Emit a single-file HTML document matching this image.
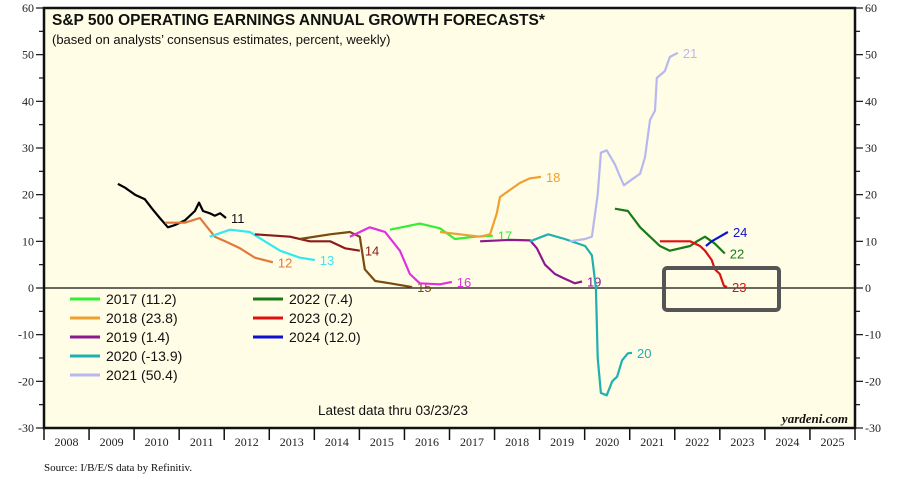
<!DOCTYPE html>
<html><head><meta charset="utf-8"><style>
body{margin:0;background:#fff;width:924px;height:498px;overflow:hidden}
svg{display:block;font-family:"Liberation Sans",sans-serif}
.ax{font-family:"Liberation Serif",serif;font-size:12px;fill:#222}
</style></head><body>
<svg id="c" width="924" height="498">
<rect x="44" y="8" width="811" height="420" fill="#fffde6" stroke="#111" stroke-width="2.5"/>
<g id="grid"></g><g id="series"></g>
<text x="52" y="25" font-weight="bold" font-size="15.5" fill="#111">S&amp;P 500 OPERATING EARNINGS ANNUAL GROWTH FORECASTS*</text>
<text x="52" y="44" font-size="13" fill="#111">(based on analysts’ consensus estimates, percent, weekly)</text>
<rect x="664" y="268" width="115" height="42" rx="3" fill="none" stroke="#555" stroke-width="4"/>
<text x="393" y="415" text-anchor="middle" font-size="13.5" fill="#111">Latest data thru 03/23/23</text>
<text x="848" y="423" text-anchor="end" font-family="Liberation Serif,serif" font-style="italic" font-weight="bold" font-size="13" fill="#111">yardeni.com</text>
<text x="44" y="471" font-family="Liberation Serif,serif" font-size="11" fill="#111">Source: I/B/E/S data by Refinitiv.</text>
<g id="legend"></g>
</svg>
<script>
const yTicks=[-30,-20,-10,0,10,20,30,40,50,60];
const years=[2008,2009,2010,2011,2012,2013,2014,2015,2016,2017,2018,2019,2020,2021,2022,2023,2024,2025];
const seriesNames=["11","12","13","14","15","16","17","18","19","20","21","22","23","24"];
const seriesColors=["#000000","#e07a3a","#33e8f0","#8b1a1a","#7a4a10","#e030e0","#33ee33","#f0a030","#8b1a8b","#20b0b0","#b8b8f0","#1a7a1a","#e01010","#1010d0"];
const s11x=[2009.64,2009.80,2010.02,2010.24,2010.40,2010.57,2010.75,2010.91,2011.13,2011.35,2011.44,2011.53,2011.68,2011.79,2011.91,2012.04];
const s11y=[22.3,21.5,20,19,17,15,13,13.5,14.5,16.5,18.3,16.5,16,15.5,16,15];
const s12x=[2010.69,2011.13,2011.46,2011.79,2012.02,2012.35,2012.68,2013.08];
const s12y=[14,14,15,11,10,8.5,6.5,5.5];
const s13x=[2011.68,2012.13,2012.57,2012.90,2013.24,2013.68,2014.01];
const s13y=[11,12.5,12,10,8,6.5,6];
const s14x=[2012.68,2013.46,2013.90,2014.35,2014.68,2015.01];
const s14y=[11.5,11,10,10,8.5,8];
const s15x=[2013.68,2014.35,2014.79,2015.01,2015.12,2015.35,2015.68,2016.17];
const s15y=[10.5,11.5,12,11,4,1.5,1.0,0.2];
const s16x=[2014.79,2015.23,2015.57,2015.90,2016.12,2016.34,2016.79,2017.05];
const s16y=[11,13,12,8,3,1,0.8,1.3];
const s17x=[2015.68,2016.34,2016.79,2017.12,2017.57,2017.96];
const s17y=[12.5,13.8,12.8,10.5,11,11.2];
const s18x=[2016.79,2017.68,2017.90,2018.05,2018.12,2018.34,2018.56,2018.79,2019.03];
const s18y=[12,11,11.5,16,19.5,21,22.5,23.5,23.8];
const s19x=[2017.68,2018.34,2018.79,2018.94,2019.12,2019.34,2019.56,2019.78,2019.94];
const s19y=[10,10.3,10.2,8.5,5,3,2,1,1.4];
const s20x=[2018.79,2019.19,2019.56,2020.01,2020.16,2020.25,2020.29,2020.36,2020.49,2020.61,2020.72,2020.83,2020.96,2021.05];
const s20y=[10,11.5,10.5,9,7,0,-15,-22.5,-23,-20,-19,-15.5,-14,-13.9];
const s21x=[2019.67,2020.01,2020.16,2020.29,2020.36,2020.49,2020.67,2020.78,2020.87,2021.01,2021.23,2021.34,2021.45,2021.56,2021.60,2021.78,2021.89,2022.07];
const s21y=[10,10.5,11,20,29,29.5,26.5,24,22,23,24.5,28,36,38,45,46.5,49.5,50.4];
const s22x=[2020.67,2020.96,2021.23,2021.45,2021.67,2021.89,2022.34,2022.49,2022.67,2022.89,2023.11];
const s22y=[17,16.5,13,11,9,8,9,10,11,9.5,7.4];
const s23x=[2021.67,2022.34,2022.56,2022.67,2022.82,2022.89,2023.0,2023.09,2023.16];
const s23y=[10,10,9,8,6,4,3,0.5,0.2];
const s24x=[2022.69,2022.82,2023.0,2023.18];
const s24y=[9,10,11,12];
const legendLabels=["2017 (11.2)","2018 (23.8)","2019 (1.4)","2020 (-13.9)","2021 (50.4)","2022 (7.4)","2023 (0.2)","2024 (12.0)"];
const legendColors=["#33ee33","#f0a030","#8b1a8b","#20b0b0","#b8b8f0","#1a7a1a","#e01010","#1010d0"];
const allX=[s11x,s12x,s13x,s14x,s15x,s16x,s17x,s18x,s19x,s20x,s21x,s22x,s23x,s24x];
const allY=[s11y,s12y,s13y,s14y,s15y,s16y,s17y,s18y,s19y,s20y,s21y,s22y,s23y,s24y];
const NS="http://www.w3.org/2000/svg";
const L=44,R=855,T=8,B=428,ymin=-30,ymax=60,x0=2008,x1=2026;
const X=t=>L+(t-x0)/(x1-x0)*(R-L);
const Y=v=>B-(v-ymin)/(ymax-ymin)*(B-T);
function mk(tag,attrs,parent){const e=document.createElementNS(NS,tag);for(const k in attrs)e.setAttribute(k,attrs[k]);parent.appendChild(e);return e;}
const g=document.getElementById('grid');
for(let v=ymin;v<=ymax;v+=5){
  const major=v%10===0;
  const tl=mk('line',{x1:L-(major?8:5),x2:L,y1:Y(v),y2:Y(v),stroke:'#111','stroke-width':1.2},g);
  
  
  const tr=mk('line',{x1:R,x2:R+(major?8:5),y1:Y(v),y2:Y(v),stroke:'#111','stroke-width':1.2},g);
  
  
}
yTicks.forEach(v=>{
  const a=mk('text',{x:L-10,y:Y(v)+4,'text-anchor':'end',class:'ax'},g);a.textContent=v;
  
  
  const b=mk('text',{x:R+10,y:Y(v)+4,class:'ax'},g);b.textContent=v;
  
  
});
const z=mk('line',{x1:L,x2:R,y1:Y(0),y2:Y(0),stroke:'#111','stroke-width':1.2},g);


for(let t=x0;t<=x1;t++){
  const tk=mk('line',{x1:X(t),x2:X(t),y1:B,y2:B+12,stroke:'#111','stroke-width':1.5},g);
  
  
}
years.forEach(t=>{
  const a=mk('text',{x:X(t+0.5),y:B+18,'text-anchor':'middle',class:'ax','font-size':'11.5'},g);a.textContent=t;
  
  
});
const sg=document.getElementById('series');
allX.forEach((xs,i)=>{
  const d=xs.map((t,j)=>(j?'L':'M')+X(t).toFixed(1)+','+Y(allY[i][j]).toFixed(1)).join(' ');
  const p=mk('path',{d:d,fill:'none',stroke:seriesColors[i],'stroke-width':2.2,'stroke-linejoin':'round'},sg);
  
  
  const n=xs.length-1;
  const lb=mk('text',{x:X(xs[n])+5,y:Y(allY[i][n])+5,'font-size':'13',fill:seriesColors[i]==='#000000'?'#111':seriesColors[i]},sg);
  lb.textContent=seriesNames[i];
  
  
});
const lg=document.getElementById('legend');
legendLabels.forEach((s,i)=>{
  const col=i<5?0:1,row=i<5?i:i-5;
  const lx=col?253:70,ly=299+row*19;
  const ln=mk('line',{x1:lx,x2:lx+30,y1:ly,y2:ly,stroke:legendColors[i],'stroke-width':3},lg);
  
  
  const tx=mk('text',{x:lx+36,y:ly+5,'font-size':'14',fill:'#111'},lg);tx.textContent=s;
  
  
});
</script>
</body></html>
